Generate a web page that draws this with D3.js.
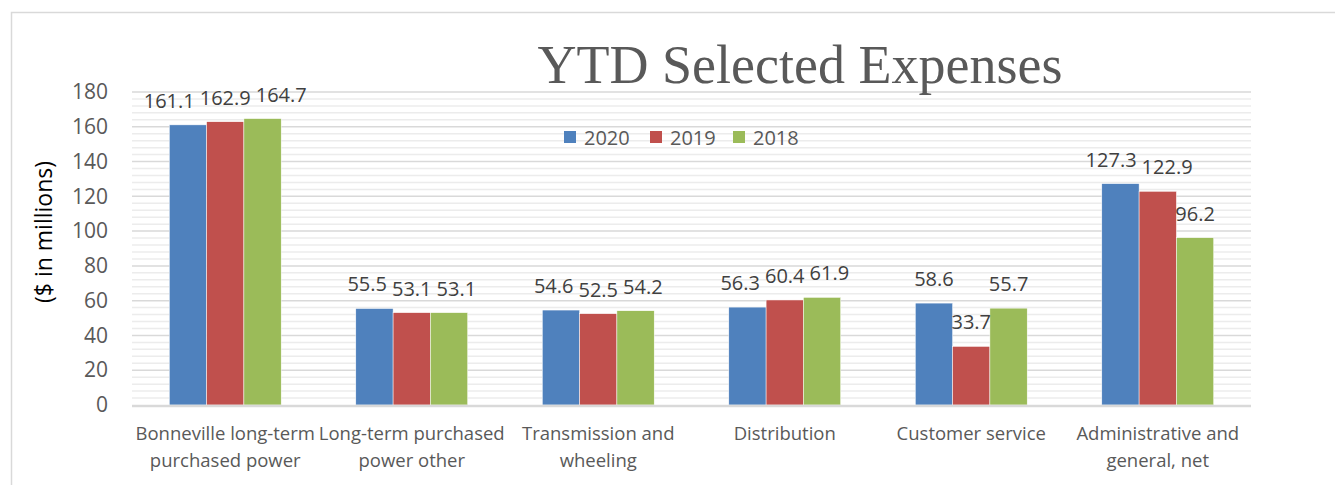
<!DOCTYPE html>
<html>
<head>
<meta charset="utf-8">
<script src="https://cdn.jsdelivr.net/npm/d3@7"></script>
<style>
  body { margin: 0; background: #fff; }
  text { font-family: "Open Sans", sans-serif; }
</style>
</head>
<body>
<div id="chart"></div>
<script>
// chart data
var categories = [
    ["Bonneville long-term", "purchased power"],
    ["Long-term purchased", "power other"],
    ["Transmission and", "wheeling"],
    ["Distribution"],
    ["Customer service"],
    ["Administrative and", "general, net"]
];
var years = ["2020", "2019", "2018"];
var values2020 = [161.1, 55.5, 54.6, 56.3, 58.6, 127.3];
var values2019 = [162.9, 53.1, 52.5, 60.4, 33.7, 122.9];
var values2018 = [164.7, 53.1, 54.2, 61.9, 55.7, 96.2];
var yTicks = [0, 20, 40, 60, 80, 100, 120, 140, 160, 180];

var yearcolors = {"2020": "#4f81bd", "2019": "#c0504d", "2018": "#9bbb59"};
var series = {"2020": values2020, "2019": values2019, "2018": values2018};

function drawChart(selector){
    var width = 1335, height = 485;
    var plot = {left: 132, right: 1251, top: 92, bottom: 405};

    var svg = d3.select(selector).append("svg")
        .attr("width", width)
        .attr("height", height);

    // chart frame (only top and left edge visible in crop)
    svg.append("path")
        .attr("d", "M11.5,485V12.5H1335")
        .attr("fill", "none")
        .attr("stroke", "#d9d9d9")
        .attr("stroke-width", 1.5);

    var y = d3.scaleLinear().domain([0, 180]).range([plot.bottom, plot.top]);
    var x0 = d3.scaleBand().domain(d3.range(categories.length)).range([plot.left, plot.right]);
    var x1 = d3.scaleBand().domain(years)
        .range([x0.bandwidth() * 0.2, x0.bandwidth() * 0.8]);

    // minor gridlines every 4
    svg.append("g").selectAll("line")
        .data(d3.range(4, 180, 4).filter(function(v){ return v % 20 !== 0; }))
        .enter().append("line")
        .attr("x1", plot.left).attr("x2", plot.right)
        .attr("y1", function(d){ return y(d); }).attr("y2", function(d){ return y(d); })
        .attr("stroke", "#ececec")
        .attr("stroke-width", 1.5);

    // major gridlines
    svg.append("g").selectAll("line")
        .data(yTicks.slice(1))
        .enter().append("line")
        .attr("x1", plot.left).attr("x2", plot.right)
        .attr("y1", function(d){ return y(d); }).attr("y2", function(d){ return y(d); })
        .attr("stroke", "#d9d9d9")
        .attr("stroke-width", 1.5);

    // y axis labels
    var yAxis = d3.axisLeft(y).tickValues(yTicks).tickSize(0).tickPadding(24);
    var yg = svg.append("g").attr("transform", "translate(" + plot.left + ",0)").call(yAxis);
    yg.select(".domain").remove();
    yg.selectAll("text")
        .attr("fill", "#595959")
        .style("font-size", "21px")
        .style("font-family", "'Open Sans', sans-serif");

    svg.append("text")
        .attr("transform", "translate(52,232) rotate(-90)")
        .attr("text-anchor", "middle")
        .attr("fill", "#000")
        .style("font-size", "23px")
        .text("($ in millions)");

    // bars
    var groups = svg.append("g").selectAll("g")
        .data(categories).enter().append("g")
        .attr("transform", function(d, i){ return "translate(" + x0(i) + ",0)"; });

    groups.selectAll("rect")
        .data(function(d, i){ return years.map(function(yr){ return {year: yr, value: series[yr][i]}; }); })
        .enter().append("rect")
        .attr("x", function(d){ return x1(d.year); })
        .attr("width", x1.bandwidth())
        .attr("y", function(d){ return y(d.value); })
        .attr("height", function(d){ return y(0) - y(d.value); })
        .attr("fill", function(d){ return yearcolors[d.year]; })
        .attr("stroke", "#fff")
        .attr("stroke-width", 0.5);

    // data labels, spread sideways when they collide (like excel does)
    groups.each(function(d, i){
        var g = d3.select(this);
        var items = years.map(function(yr){
            var v = series[yr][i];
            return {value: v, cx: x1(yr) + x1.bandwidth() / 2, y: y(v) - 17};
        });
        var lbl = g.selectAll(".lbl").data(items).enter().append("text")
            .attr("class", "lbl")
            .attr("text-anchor", "middle")
            .attr("fill", "#404040")
            .style("font-size", "20px")
            .text(function(e){ return e.value.toFixed(1); });
        lbl.each(function(e){ e.w = this.getComputedTextLength(); });
        for (var it = 0; it < 20; it++) {
            for (var k = 0; k < items.length - 1; k++) {
                var a = items[k], b = items[k + 1];
                if (Math.abs(a.y - b.y) > 15) continue;
                var overlap = (a.cx + a.w / 2 + 5) - (b.cx - b.w / 2);
                if (overlap > 0) { a.cx -= overlap / 2; b.cx += overlap / 2; }
            }
        }
        lbl.attr("x", function(e){ return e.cx; }).attr("y", function(e){ return e.y; });
    });

    // x axis line
    svg.append("line")
        .attr("x1", plot.left).attr("x2", plot.right)
        .attr("y1", y(0) + 1).attr("y2", y(0) + 1)
        .attr("stroke", "#d9d9d9")
        .attr("stroke-width", 2.5);

    // category labels
    var cat = svg.append("g").selectAll("text")
        .data(categories).enter().append("text")
        .attr("x", function(d, i){ return x0(i) + x0.bandwidth() / 2; })
        .attr("y", 440)
        .attr("text-anchor", "middle")
        .attr("fill", "#595959")
        .style("font-size", "18.5px");
    cat.selectAll("tspan")
        .data(function(d){ return d; })
        .enter().append("tspan")
        .attr("x", function(){ return d3.select(this.parentNode).attr("x"); })
        .attr("dy", function(d, i){ return i === 0 ? 0 : 27; })
        .text(function(d){ return d; });

    // title
    svg.append("text")
        .attr("x", 800)
        .attr("y", 83)
        .attr("text-anchor", "middle")
        .attr("fill", "#595959")
        .style("font-family", "'Liberation Serif', serif")
        .style("font-size", "54px")
        .text("YTD Selected Expenses");

    // legend
    var legendX = [564, 650, 733];
    var legend = svg.append("g").selectAll("g")
        .data(years).enter().append("g")
        .attr("transform", function(d, i){ return "translate(" + legendX[i] + ",131)"; });
    legend.append("rect")
        .attr("width", 12).attr("height", 12)
        .attr("fill", function(d){ return yearcolors[d]; });
    legend.append("text")
        .attr("x", 20).attr("y", 13.5)
        .attr("fill", "#595959")
        .style("font-size", "20px")
        .text(function(d){ return d; });
}

drawChart("#chart");
</script>
</body>
</html>
